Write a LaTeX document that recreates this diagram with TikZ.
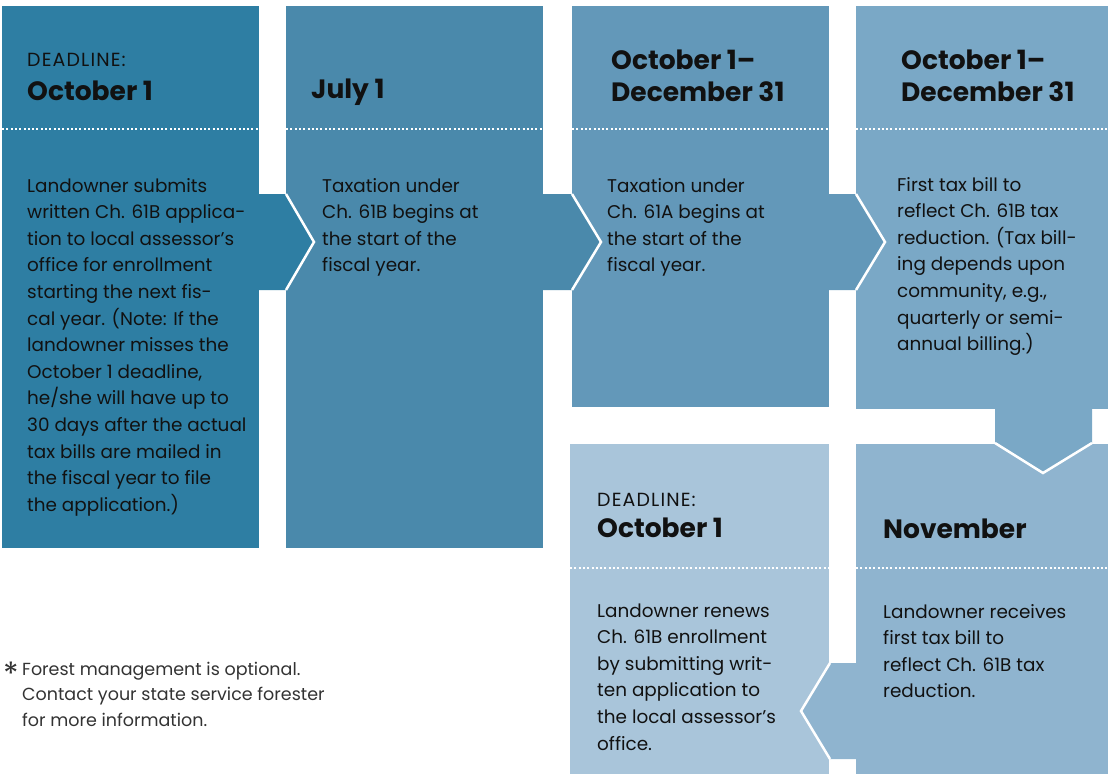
\documentclass[tikz,border=0pt]{standalone}
\usepackage{fontspec}
\setmainfont{Poppins}
\newfontfamily\spacedfont{Poppins}[LetterSpace=6]
\definecolor{cA}{RGB}{46,126,163}
\definecolor{cB}{RGB}{74,137,171}
\definecolor{cC}{RGB}{99,152,185}
\definecolor{cD}{RGB}{122,168,198}
\definecolor{cE}{RGB}{143,180,207}
\definecolor{cF}{RGB}{169,197,218}
\definecolor{ink}{RGB}{17,17,17}
\definecolor{note}{RGB}{51,51,51}
\tikzset{
  body/.style={anchor=base west, inner sep=0pt, align=left, text=ink, font=\fontsize{18.4}{26.6}\selectfont},
  ttl/.style={anchor=base west, inner sep=0pt, align=left, text=ink, font=\fontsize{26.5}{31.5}\selectfont\bfseries},
  hdl/.style={anchor=base west, inner sep=0pt, text=ink, font=\spacedfont\fontsize{19}{21}\selectfont},
  dots/.style={white, line width=2pt, dash pattern=on 2pt off 2.3pt},
  edge/.style={white, line width=2.5pt, line join=miter},
}
\begin{document}
\begin{tikzpicture}[x=1pt,y=-1pt]
\useasboundingbox (0,0) rectangle (1108,774);
% boxes
\fill[cA] (2,6) rectangle (259,548);
\fill[cB] (286,6) rectangle (543,548);
\fill[cC] (572,6) rectangle (829,407);
\fill[cD] (856,6) rectangle (1108,409);
\fill[cE] (856,444) rectangle (1108,774);
\fill[cF] (570,444) rectangle (829,774);
% arrows
\fill[cA] (258,194) -- (286,194) -- (314,242) -- (286,290) -- (258,290) -- cycle;
\draw[edge] (286,194) -- (314,242) -- (286,290);
\fill[cB] (542,194) -- (572,194) -- (601,242) -- (572,290) -- (542,290) -- cycle;
\draw[edge] (572,194) -- (601,242) -- (572,290);
\fill[cC] (828,194) -- (856,194) -- (885,242) -- (856,290) -- (828,290) -- cycle;
\draw[edge] (856,194) -- (885,242) -- (856,290);
\fill[cD] (995,408) -- (995,443) -- (1043,473) -- (1092,443) -- (1092,408) -- cycle;
\draw[edge] (995,443) -- (1043,473) -- (1092,443);
\fill[cE] (857,663) -- (830,663) -- (801,711) -- (830,759) -- (857,759) -- cycle;
\draw[edge] (830,663) -- (801,711) -- (830,759);
% dotted separators
\draw[dots] (2,129) -- (259,129);
\draw[dots] (286,129) -- (543,129);
\draw[dots] (572,129) -- (829,129);
\draw[dots] (856,129) -- (1108,129);
\draw[dots] (570,568) -- (829,568);
\draw[dots] (856,568) -- (1108,568);
% box 1 (base anchor = last line's baseline)
\node[hdl] (h1) at (27,66) {DEADLINE:};
\node[ttl] (t1) at (27,100) {October 1};
\node[body] (b1) at (27,511.2) {Landowner submits\\written Ch. 61B applica-\\tion to local assessor’s\\office for enrollment\\starting the next fis-\\cal year. (Note: If the\\landowner misses the\\October 1 deadline,\\he/she will have up to\\30 days after the actual\\tax bills are mailed in\\the fiscal year to file\\the application.)};
% box 2
\node[ttl] (t2) at (311,98) {July 1};
\node[body] (b2) at (322,271.8) {Taxation under\\Ch. 61B begins at\\the start of the\\fiscal year.};
% box 3
\node[ttl] (t3) at (611,101) {October 1–\\December 31};
\node[body] (b3) at (607,271.8) {Taxation under\\Ch. 61A begins at\\the start of the\\fiscal year.};
% box 4
\node[ttl] (t4) at (901,101) {October 1–\\December 31};
\node[body] (b4) at (897,350.6) {First tax bill to\\reflect Ch. 61B tax\\reduction. (Tax bill-\\ing depends upon\\community, e.g.,\\quarterly or semi-\\annual billing.)};
% box 5
\node[ttl] (t5) at (883,538) {November};
\node[body] (b5) at (883,697.8) {Landowner receives\\first tax bill to\\reflect Ch. 61B tax\\reduction.};
% box 6
\node[hdl] (h6) at (597,506) {DEADLINE:};
\node[ttl] (t6) at (597,537) {October 1};
\node[body] (b6) at (597,750) {Landowner renews\\Ch. 61B enrollment\\by submitting writ-\\ten application to\\the local assessor’s\\office.};
% footnote
\node[anchor=base east, inner sep=0pt, text=note, font=\fontsize{32}{32}\selectfont] (ast) at (19,685) {*};
\node[anchor=base west, inner sep=0pt, align=left, text=note, font=\fontsize{17.5}{25.5}\selectfont] (fn) at (22,726) {Forest management is optional.\\Contact your state service forester\\for more information.};
\end{tikzpicture}
\end{document}
